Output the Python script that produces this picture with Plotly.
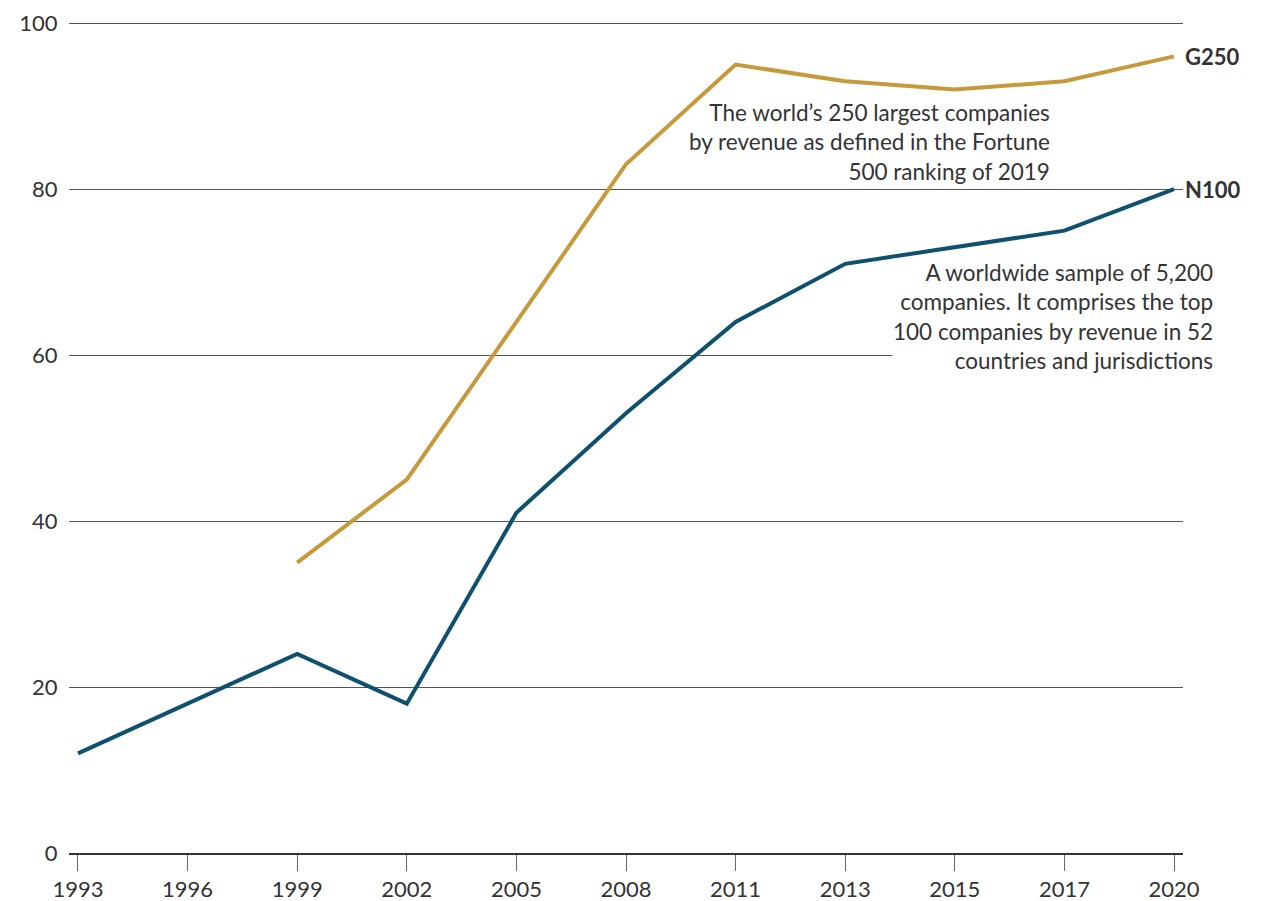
import plotly.graph_objects as go

years = ["1993", "1996", "1999", "2002", "2005", "2008", "2011", "2013", "2015", "2017", "2020"]
g250 = [None, None, 35, 45, 64, 83, 95, 93, 92, 93, 96]
n100 = [12, 18, 24, 18, 41, 53, 64, 71, 73, 75, 80]

gold = "#c6993b"
navy = "#0f506e"
text_col = "#333333"
font_family = "Lato, Open Sans, sans-serif"

fig = go.Figure()

fig.add_trace(go.Scatter(x=years, y=g250, mode="lines", name="G250",
                         line=dict(color=gold, width=4), connectgaps=False,
                         hoverinfo="skip"))
fig.add_trace(go.Scatter(x=years, y=n100, mode="lines", name="N100",
                         line=dict(color=navy, width=4), hoverinfo="skip"))

last = len(years) - 1  # category index of 2020

# series labels at line ends
fig.add_annotation(x=last, y=g250[-1], text="<b>G250</b>", showarrow=False,
                   xanchor="left", xshift=9, font=dict(size=22, color=text_col))
fig.add_annotation(x=last, y=n100[-1], text="<b>N100</b>", showarrow=False,
                   xanchor="left", xshift=9, font=dict(size=22, color=text_col))

# descriptive notes
fig.add_annotation(x=8, y=85.7, xref="x", yref="y",
                   text="The world’s 250 largest companies<br>by revenue as defined in the Fortune<br>500 ranking of 2019",
                   showarrow=False, xanchor="right", yanchor="middle", align="right",
                   xshift=97,
                   font=dict(size=22.5, color=text_col))
fig.add_annotation(x=last, y=64.7, xref="x", yref="y",
                   text="A worldwide sample of 5,200<br>companies. It comprises the top<br>100 companies by revenue in 52<br>countries and jurisdictions",
                   showarrow=False, xanchor="right", yanchor="middle", align="right",
                   xshift=40, bgcolor="white", borderpad=0,
                   font=dict(size=22.5, color=text_col))

fig.update_layout(
    width=1271, height=901,
    margin=dict(l=69, r=88, t=19, b=48),
    paper_bgcolor="white", plot_bgcolor="white",
    showlegend=False,
    font=dict(family=font_family, size=22, color=text_col),
)
fig.update_xaxes(
    type="category", range=[-0.082, 10.082], automargin=False,
    showgrid=False, showline=True, linecolor="#333333", linewidth=1.5,
    ticks="outside", ticklen=16, tickcolor="#666666", tickwidth=1,
    tickfont=dict(size=22, color=text_col),
)
fig.update_yaxes(
    range=[0, 100.5], tickvals=[0, 20, 40, 60, 80, 100], automargin=False,
    showgrid=True, gridcolor="#555555", gridwidth=1,
    zeroline=False, showline=False,
    ticks="outside", ticklen=6, tickcolor="white",
    tickfont=dict(size=22, color=text_col),
)

# drop the browser's default 8px page margin so the figure sits at the corner
fig.write_html("out.html", config={"displayModeBar": False},
               post_script="document.body.style.margin='0';")
